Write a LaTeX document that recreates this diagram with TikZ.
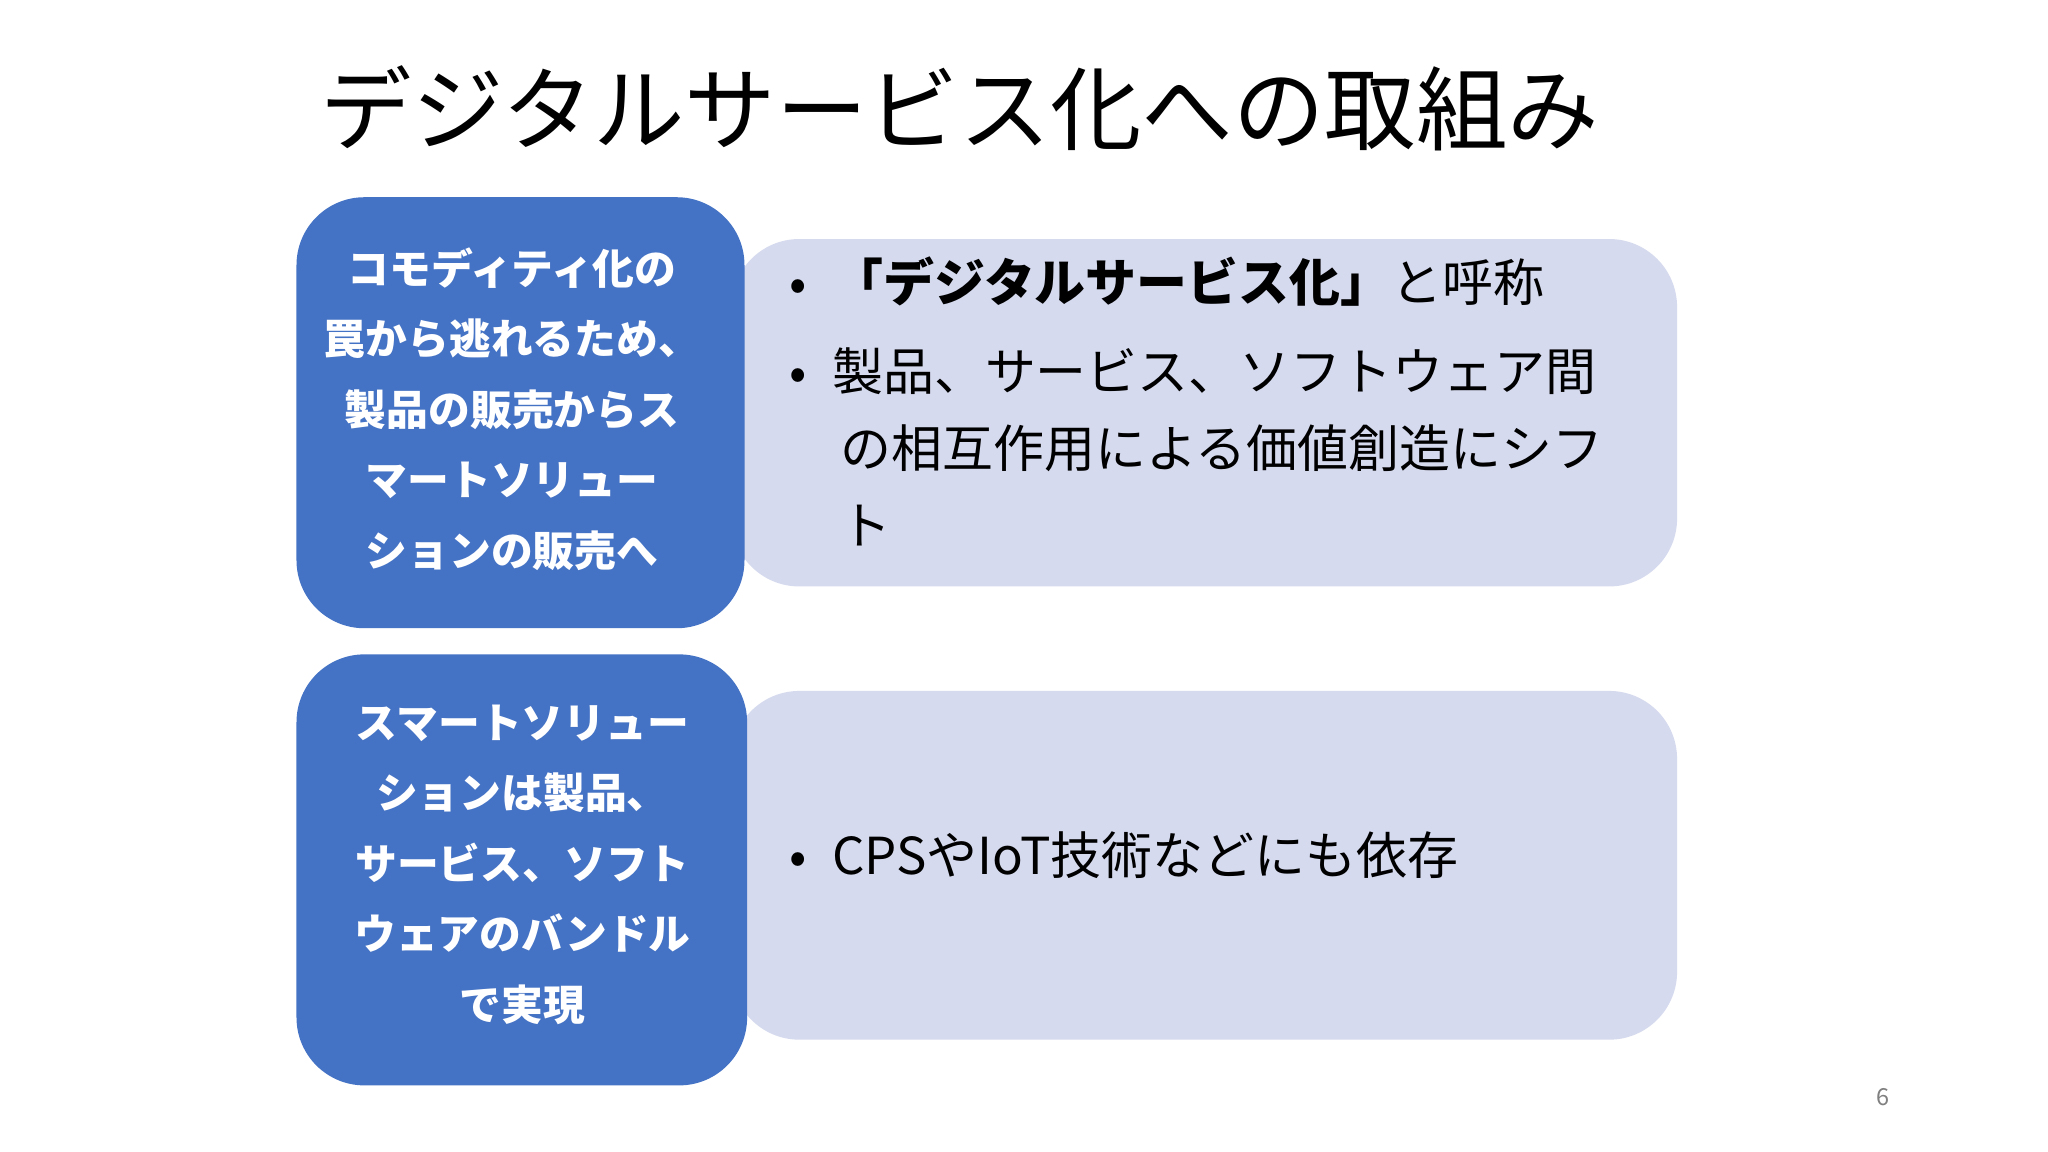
\documentclass[tikz,border=0pt]{standalone}
\usepackage{fontspec}
\setmainfont{Noto Sans CJK JP}
\newfontfamily\jpb{Noto Sans CJK JP}[BoldFont={Noto Sans CJK JP Bold}]
\begin{document}
\begin{tikzpicture}[x=0.5pt,y=-0.5pt,
  bluebox/.style={fill={rgb,255:red,68;green,114;blue,196},draw=none,rounded corners=26pt},
  lightbox/.style={fill={rgb,255:red,214;green,218;blue,238},draw=none,rounded corners=26pt},
  bluetext/.style={text=white,font=\fontsize{16}{27}\selectfont\bfseries,align=center,inner sep=0pt},
  bullettext/.style={font=\fontsize{19.5}{29.5}\selectfont,anchor=north west,align=left,inner sep=0pt,text width=300pt}]
\useasboundingbox (0,0) rectangle (1568,882);
\fill[white] (0,0) rectangle (1568,882);
\node[font=\fontsize{35}{40}\selectfont,anchor=center] (title) at (735,83) {デジタルサービス化への取組み};
\fill[lightbox] (560,183) rectangle (1284,449);
\fill[lightbox] (560,529) rectangle (1284,796);
\fill[bluebox] (227,151) rectangle (570,481);
\fill[bluebox] (227,501) rectangle (572,831);
\node[bluetext] (b1) at (392,313) {コモディティ化の\\罠から逃れるため、\\製品の販売からス\\マートソリュー\\ションの販売へ};
\node[bluetext] (b2) at (400,662) {スマートソリュー\\ションは製品、\\サービス、ソフト\\ウェアのバンドル\\で実現};
\node[bullettext,text width=320pt] (t1) at (604,196) {•\hspace{0.5em}{\bfseries 「デジタルサービス化」}と呼称};
\node[bullettext,text width=320pt] (t2) at (604,266) {•\hspace{0.5em}製品、サービス、ソフトウェア間\\\hspace*{1.0em}の相互作用による価値創造にシフ\\\hspace*{1.0em}ト};
\node[bullettext] (t3) at (604,636) {•\hspace{0.5em}CPSやIoT技術などにも依存};
\node[text=gray,font=\fontsize{9}{10}\selectfont] (pg) at (1442,840) {6};
\end{tikzpicture}
\end{document}
